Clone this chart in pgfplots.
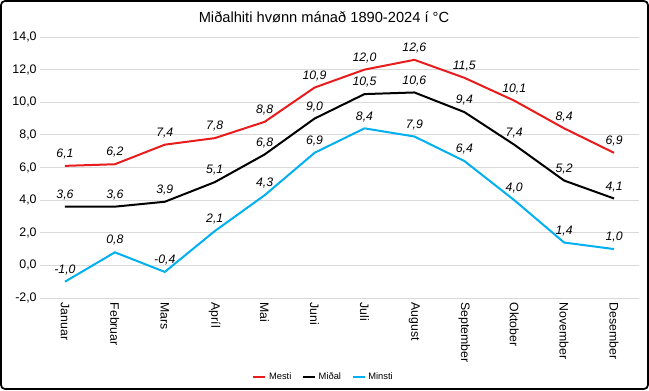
\documentclass[border=0pt]{standalone}
\usepackage{fontspec}
\setmainfont{Liberation Sans}
\usepackage{pgfplots}
\pgfplotsset{compat=1.18}
\definecolor{cred}{RGB}{232,28,28}
\definecolor{cblue}{RGB}{0,176,240}
\definecolor{cgrid}{RGB}{217,217,217}
\begin{document}
\begin{tikzpicture}[x=0.75pt,y=0.75pt]
\path[use as bounding box] (0,0) rectangle (649,390);
\draw[line width=1.3pt, rounded corners=3pt] (1,1) rectangle (648,389);
\node[font=\fontsize{11}{13}\selectfont] at (324,373) {Miðalhiti hvønn mánað 1890-2024 í °C};
\begin{axis}[
  at={(30pt,69pt)}, anchor=south west,
  scale only axis, width=449.25pt, height=195.75pt,
  xmin=-0.5, xmax=11.5, ymin=-2, ymax=14,
  axis line style={draw=none}, tick style={draw=none},
  ymajorgrids, grid style={cgrid, line width=0.6pt},
  ytick={-2,0,2,4,6,8,10,12,14},
  xtick={0,...,11},
  xticklabels={Januar,Februar,Mars,Apríl,Mai,Juni,Juli,August,September,Oktober,November,Desember},
  xticklabel style={rotate=-90, anchor=west, font=\fontsize{9.2}{10}\selectfont},
  yticklabel style={font=\fontsize{9.3}{10}\selectfont, xshift=1pt},
  /pgf/number format/fixed,
  /pgf/number format/fixed zerofill,
  /pgf/number format/precision=1,
  /pgf/number format/use comma,
  /pgf/number format/assume math mode=true,
  nodes near coords,
  every node near coord/.append style={font=\fontsize{9.2}{10}\selectfont\itshape, text=black, anchor=south, yshift=1pt},
  legend style={at={(axis description cs:0.474,-0.303)}, anchor=center, draw=none, fill=none,
    font=\fontsize{7}{8}\selectfont, legend columns=-1,
    /tikz/every even column/.append style={column sep=6pt}},
  legend image code/.code={\draw[#1] (0pt,0pt) -- (9pt,0pt);},
]
\addplot[cred, line width=1.5pt, mark=none] coordinates {(0,6.1) (1,6.2) (2,7.4) (3,7.8) (4,8.8) (5,10.9) (6,12.0) (7,12.6) (8,11.5) (9,10.1) (10,8.4) (11,6.9)};
\addlegendentry{Mesti}
\addplot[black, line width=1.5pt, mark=none] coordinates {(0,3.6) (1,3.6) (2,3.9) (3,5.1) (4,6.8) (5,9.0) (6,10.5) (7,10.6) (8,9.4) (9,7.4) (10,5.2) (11,4.1)};
\addlegendentry{Miðal}
\addplot[cblue, line width=1.5pt, mark=none] coordinates {(0,-1.0) (1,0.8) (2,-0.4) (3,2.1) (4,4.3) (5,6.9) (6,8.4) (7,7.9) (8,6.4) (9,4.0) (10,1.4) (11,1.0)};
\addlegendentry{Minsti}
\end{axis}
\end{tikzpicture}
\end{document}
